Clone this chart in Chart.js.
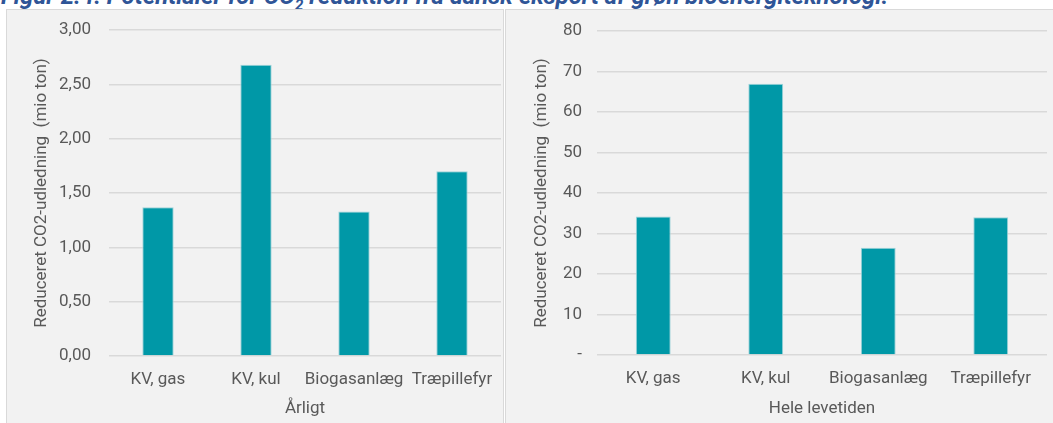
<!DOCTYPE html>
<html>
<head>
<meta charset="utf-8">
<script src="https://cdn.jsdelivr.net/npm/chart.js@4/dist/chart.umd.min.js"></script>
<style>
  html, body { margin: 0; padding: 0; background: #ffffff; width: 1053px; height: 423px; overflow: hidden; }
  #caption {
    position: absolute; left: 1px; top: -16px; white-space: nowrap;
    font-family: Roboto, "Noto Sans", sans-serif; font-style: italic; font-weight: 700;
    font-size: 24px; line-height: 24px; color: #2f5597;
  }
  .panel {
    position: absolute; top: 9px; background: #f2f2f2; border: 1px solid #d9d9d9; box-sizing: border-box;
  }
  #panelA { left: 6px; width: 498px; height: 430px; }
  #panelB { left: 505px; width: 560px; height: 430px; }
  .panel canvas { position: absolute; left: 0; top: 0; }
</style>
</head>
<body>
<div id="caption">Figur 2.4: Potentialer for CO<sub style="font-size:15px;line-height:0">2</sub> reduktion fra dansk eksport af grøn bioenergiteknologi.</div>
<div class="panel" id="panelA"><canvas id="chartA" width="496" height="413"></canvas></div>
<div class="panel" id="panelB"><canvas id="chartB" width="547" height="413"></canvas></div>
<script>
// Technologies compared in both panels
const categories = ['KV, gas', 'KV, kul', 'Biogasanlæg', 'Træpillefyr'];

// Reduced CO2 emissions, million tonnes
const annualValues = [1.37, 2.68, 1.33, 1.70];
const lifetimeValues = [34.2, 67.0, 26.5, 34.0];

// Y-axis tick labels
const annualTicks = ['0,00', '0,50', '1,00', '1,50', '2,00', '2,50', '3,00'];
const lifetimeTicks = ['-', '10', '20', '30', '40', '50', '60', '70', '80'];

const yTitle = 'Reduceret CO2-udledning  (mio ton)';
const annualTitle = 'Årligt';
const lifetimeTitle = 'Hele levetiden';

const BAR = '#0098a7';
const TEXT = '#595959';
const GRID = '#d9d9d9';
const FONT = 'Roboto, "Noto Sans", sans-serif';

Chart.defaults.font.family = FONT;
Chart.defaults.color = TEXT;

function makeChart(id, values, tickLabels, step, xTitle, geo) {
  const maxVal = step * (tickLabels.length - 1);
  return new Chart(document.getElementById(id), {
    type: 'bar',
    data: {
      labels: categories,
      datasets: [{
        data: values,
        backgroundColor: BAR,
        borderColor: '#9fd3d9',
        borderWidth: { left: 1, right: 1, top: 1, bottom: 0 },
        barPercentage: 1,
        categoryPercentage: geo.catPct
      }]
    },
    options: {
      responsive: false,
      animation: false,
      devicePixelRatio: 1,
      layout: { padding: { left: 0, right: geo.padRight, top: geo.padTop, bottom: 0 } },
      plugins: { legend: { display: false }, tooltip: { enabled: false } },
      scales: {
        x: {
          grid: { display: false, drawTicks: false },
          border: { display: false },
          ticks: { font: { size: 17 }, color: TEXT, padding: 14, maxRotation: 0, autoSkip: false },
          title: { display: true, text: xTitle, font: { size: 17 }, color: TEXT, padding: { top: 0, bottom: 4 } },
          afterFit: s => { s.height = geo.xHeight; s.paddingLeft = 0; s.paddingRight = 0; }
        },
        y: {
          min: 0, max: maxVal,
          grid: { color: GRID, lineWidth: 1.5, drawTicks: false },
          border: { display: false },
          ticks: {
            stepSize: step, font: { size: 17 }, color: TEXT, padding: geo.tickPad,
            callback: (v) => tickLabels[Math.round(v / step)]
          },
          title: { display: true, text: yTitle, font: { size: 17 }, color: TEXT, padding: { top: geo.titlePad, bottom: 0 } },
          // fixed axis width; label overhang handled by the layout padding instead
          afterFit: s => { s.width = geo.yWidth; s.paddingTop = 0; s.paddingBottom = 0; }
        }
      }
    }
  });
}

makeChart('chartA', annualValues, annualTicks, 0.5, annualTitle,
  { catPct: 0.32, padRight: 2, padTop: 20, xHeight: 67, yWidth: 102, tickPad: 18, titlePad: 25 });
makeChart('chartB', lifetimeValues, lifetimeTicks, 10, lifetimeTitle,
  { catPct: 0.31, padRight: 6, padTop: 21, xHeight: 68, yWidth: 91, tickPad: 15, titlePad: 26 });
</script>
</body>
</html>
